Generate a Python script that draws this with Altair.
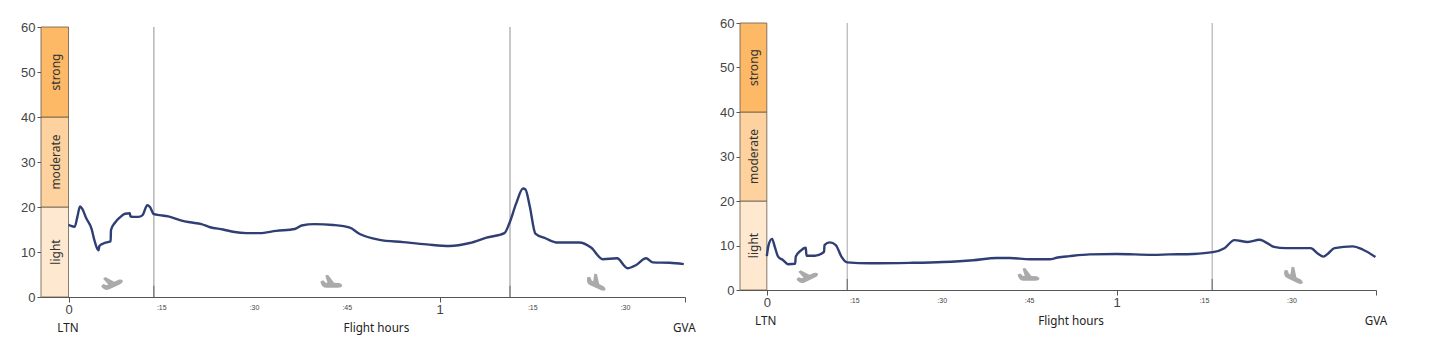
import altair as alt
import pandas as pd

# Left chart (LTN -> GVA)
left_min = [0,0.4,1.0,1.43,1.86,2.23,2.83,3.74,4.17,4.66,4.87,4.98,5.63,6.81,6.87,7.51,8.32,9.13,9.94,9.99,10.47,11.28,11.98,12.74,13.17,13.81,14.78,16.13,18.01,19.63,21.5,22.9,25.0,26.6,28.8,30.9,33.6,36.6,37.7,39.8,42.8,45.5,47.1,50.3,54.1,57.9,61.6,64.9,67.6,70.5,71.3,72.4,73.5,73.9,74.6,75.5,77.2,79.1,82.6,84.5,86.4,88.7,90.4,91.8,93.4,94.5,97.2,99.5]
left_val = [16.07,15.8,15.6,17.8,20.1,19.6,17.6,15.1,12.7,10.7,10.4,11.3,11.9,12.4,14.9,16.5,17.7,18.5,18.6,17.9,17.8,17.8,18.2,20.4,20.0,18.4,18.2,17.9,17.1,16.6,16.2,15.5,15.0,14.5,14.2,14.2,14.7,15.1,15.9,16.2,16.0,15.4,14.0,12.7,12.2,11.7,11.33,12.0,13.2,14.2,16.4,20.8,24.1,23.9,20.1,14.1,13.0,12.1,12.1,11.0,8.4,8.6,6.4,7.1,8.6,7.7,7.6,7.3]

# Right chart
right_min = [0,0.3,0.9,1.37,1.94,2.8,3.66,4.86,4.97,5.77,6.69,6.8,8.23,9.83,9.89,10.8,11.83,12.8,13.77,17.66,24.5,30.2,35.4,39.4,41.7,45.1,48.5,49.9,51.9,55.4,60,66.2,69,73.1,76.5,78.5,80.2,82.5,84.5,87.0,89,93.3,94.5,95.5,96.2,97.4,100.5,102.2,104.4]
right_val = [7.6,10.1,11.5,9.7,7.5,6.7,5.8,5.9,7.5,8.8,9.5,7.7,7.7,8.6,10.1,10.7,10.1,7.5,6.2,6.0,6.1,6.3,6.7,7.2,7.2,6.9,6.9,7.3,7.6,8.0,8.1,7.9,8.0,8.1,8.5,9.4,11.2,10.8,11.3,9.7,9.4,9.4,8.2,7.5,8.1,9.4,9.8,9.1,7.4]

band_names = ["light", "moderate", "strong"]
band_lo = [0, 20, 40]
band_hi = [20, 40, 60]
band_colors = ["#FEE8CF", "#FDD29E", "#FDB966"]
label_texts = ["LTN", "Flight hours", "GVA"]

PLANE = ("M-1,-0.15 L-0.75,-0.25 L-0.5,-0.02 L-0.35,-0.02 L-0.55,-0.7 L-0.3,-0.75 L0.25,-0.02 "
         "L0.75,0 Q1,0.1 1,0.22 Q0.95,0.42 0.6,0.42 L-0.5,0.42 Q-0.9,0.4 -1,-0.15 Z")

LINE = "#2F3F73"
SANS = "Noto Sans"
HELV = "Liberation Sans"


def panel(minutes, values, xmin, xmax, ymax, w, h, rules, planes, rule_w, label_x):
    xs = alt.Scale(domain=[xmin, xmax], nice=False, zero=False)
    ys = alt.Scale(domain=[0, ymax], nice=False, zero=False)
    x_ax = alt.Axis(
        values=[0, 15, 30, 45, 60, 75, 90, xmax],
        labelExpr="datum.value==0?'0':datum.value==60?'1':datum.value==15||datum.value==75?':15':datum.value==30||datum.value==90?':30':datum.value==45?':45':''",
        labelFontSize=alt.expr("datum.value%60==0?13:7"),
        labelFont=HELV, labelColor="#444", labelPadding=1.5, labelFlush=False,
        labelOverlap=False, title=None, grid=False, tickSize=5, tickColor="#555",
        tickOpacity=alt.expr("datum.value%60==0||datum.value>95?1:0"),
        domainColor="#555", domainWidth=1.2,
    )
    y_ax = alt.Axis(
        values=[0, 10, 20, 30, 40, 50, 60], title=None, grid=False, domain=False,
        tickSize=4, tickColor="#555", labelFont=HELV, labelFontSize=13, labelColor="#444",
        labelPadding=2, labelFlush=False,
    )
    bands = pd.DataFrame({"name": band_names, "lo": band_lo, "hi": band_hi, "c": band_colors,
                          "x0": [xmin] * 3, "x1": [0] * 3,
                          "mid": [(a + b) / 2 for a, b in zip(band_lo, band_hi)],
                          "xm": [xmin * 0.47] * 3})
    band_rects = alt.Chart(bands).mark_rect(stroke="#665a4a", strokeWidth=0.8).encode(
        x=alt.X("x0:Q", scale=xs, axis=x_ax), x2="x1:Q",
        y=alt.Y("lo:Q", scale=ys, axis=y_ax), y2="hi:Q",
        fill=alt.Fill("c:N", scale=None),
    )
    band_text = alt.Chart(bands).mark_text(angle=270, font=SANS, fontSize=12, color="#333").encode(
        x=alt.X("xm:Q", scale=xs), y=alt.Y("mid:Q", scale=ys), text="name:N")
    rule_df = pd.DataFrame({"x": rules, "y0": [0] * 2, "y1": [60] * 2, "yt": [2.5] * 2})
    vlines = alt.Chart(rule_df).mark_rule(color="#b5b5b5", strokeWidth=rule_w).encode(
        x=alt.X("x:Q", scale=xs), y=alt.Y("y0:Q", scale=ys), y2="y1:Q")
    vticks = alt.Chart(rule_df).mark_rule(color="#666", strokeWidth=1).encode(
        x=alt.X("x:Q", scale=xs), y=alt.Y("y0:Q", scale=ys), y2="yt:Q")
    plane_df = pd.DataFrame({"x": [p[0] for p in planes], "y": [p[1] for p in planes], "a": [p[2] for p in planes]})
    plane_marks = alt.Chart(plane_df).mark_point(shape=PLANE, filled=True, color="#aaaaaa", opacity=1, size=480).encode(
        x=alt.X("x:Q", scale=xs), y=alt.Y("y:Q", scale=ys),
        angle=alt.Angle("a:Q", scale=None))
    line = alt.Chart(pd.DataFrame({"m": minutes, "v": values})).mark_line(
        color=LINE, strokeWidth=2.4, interpolate="monotone").encode(
        x=alt.X("m:Q", scale=xs), y=alt.Y("v:Q", scale=ys), order="m:Q")
    labels = pd.DataFrame({"x": label_x, "t": label_texts})
    lab = alt.Chart(labels).mark_text(font=SANS, fontSize=11.7, color="#222").encode(
        x=alt.X("x:Q", scale=xs), y=alt.value(h + 31), text="t:N")
    return alt.layer(band_rects, band_text, vlines, vticks, plane_marks, line, lab).properties(width=w, height=h)


left = panel(left_min, left_val, -4.45, 99.7, 60.89, 644, 274, [13.8, 71.4],
             [(7.0, 3.1, 335), (42.5, 3.1, 0), (85.4, 3.1, 25)], 1.5, [-0.1, 49.8, 99.6])
right = panel(right_min, right_val, -4.6, 104.5, 60, 636, 267, [13.8, 76.4],
              [(6.9, 3.1, 335), (44.9, 3.1, 0), (90.4, 3.1, 25)], 1.2, [-0.2, 52.2, 104.5])

chart = alt.hconcat(left, right, spacing=23).properties(
    padding={"left": 12, "top": 9, "right": 0, "bottom": 0}, background="white"
).configure_view(stroke=None)

chart.save("out.html", embed_options={"renderer": "svg", "actions": False})
